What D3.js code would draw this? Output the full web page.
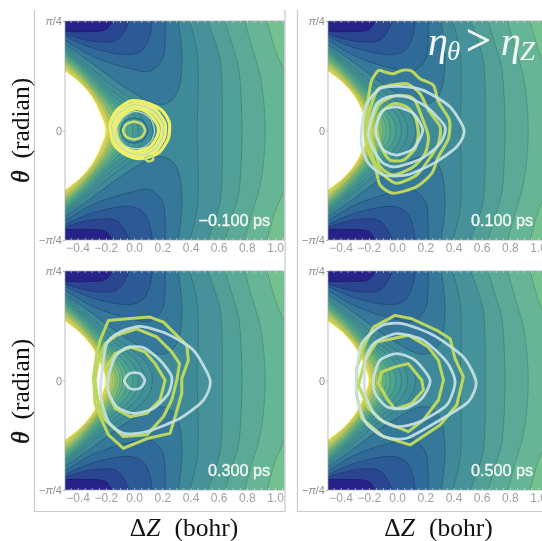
<!DOCTYPE html>
<html><head><meta charset="utf-8">
<script src="https://cdnjs.cloudflare.com/ajax/libs/d3/7.8.5/d3.min.js"></script>
<style>html,body{margin:0;padding:0;background:#fff;overflow:hidden}svg{display:block;filter:blur(.6px)}</style>
</head><body><script>
// axis values
const xTickValues=[-0.4,-0.2,0,0.2,0.4,0.6,0.8,1.0];
const xTickLabels=["−0.4","−0.2","0.0","0.2","0.4","0.6","0.8","1.0"];
const thetaTickValues=[-Math.PI/4,0,Math.PI/4];
const thetaTickLabels=["−<tspan font-style='italic'>π</tspan>/4","0","<tspan font-style='italic'>π</tspan>/4"];
const panelTimes=["−0.100 ps","0.100 ps","0.300 ps","0.500 ps"];
// energy contours: upper half [ΔZ, θ]; the surface is symmetric in θ
const lobeContours=[
 [[-.5,.625],[-.29,.475],[-.05,.30],[.16,.19],[.24,.2],[.305,.27],[.34,.51],[.31,.8]],
 [[-.5,.655],[-.29,.53],[-.01,.44],[.11,.425],[.2,.51],[.22,.65],[.22,.8]],
 [[-.5,.68],[-.29,.59],[-.03,.545],[.06,.58],[.11,.675],[.13,.8]],
 [[-.5,.695],[-.29,.64],[-.12,.65],[-.04,.77],[-.03,.8]],
 [[-.5,.71],[-.33,.71],[-.2,.725],[-.15,.8]]];
const lobeColors=["#35789a","#2f6a98","#2c5a96","#2a4690","#27218a"];
const rightContours=[
 [[.39,.8],[.43,.65],[.45,.53],[.455,.3],[.447,0]],
 [[.515,.8],[.57,.65],[.61,.51],[.625,.25],[.625,0]],
 [[.64,.8],[.7,.6],[.74,.46],[.76,.22],[.765,0]],
 [[.78,.8],[.84,.58],[.89,.41],[.92,.2],[.93,0]],
 [[.94,.8],[1.0,.58],[1.08,.37],[1.1,0]]];
const rightColors=["#46929a","#50a098","#5baa98","#66b596","#73c18f"];
const arcContours=[
 [[-.5,.615],[-.38,.51],[-.29,.435],[-.17,.33],[-.05,.245],[.05,.17],[.11,.09],[.13,0]],
 [[-.5,.6],[-.38,.49],[-.29,.41],[-.17,.295],[-.05,.205],[.03,.125],[.065,.06],[.075,0]],
 [[-.5,.585],[-.38,.475],[-.29,.39],[-.17,.265],[-.05,.165],[.01,.09],[.03,0]],
 [[-.5,.57],[-.38,.46],[-.29,.37],[-.17,.24],[-.06,.125],[-.02,.06],[-.01,0]],
 [[-.5,.555],[-.38,.445],[-.29,.35],[-.17,.215],[-.08,.105],[-.055,.05],[-.05,0]],
 [[-.5,.54],[-.38,.43],[-.29,.33],[-.17,.19],[-.1,.085],[-.08,0]],
 [[-.5,.525],[-.38,.415],[-.29,.315],[-.17,.165],[-.115,.07],[-.1,0]],
 [[-.5,.515],[-.38,.4],[-.29,.3],[-.2,.18],[-.14,.07],[-.12,0]],
 [[-.5,.5],[-.38,.39],[-.29,.29],[-.21,.18],[-.155,.07],[-.135,0]],
 [[-.5,.487],[-.38,.378],[-.29,.278],[-.22,.175],[-.17,.07],[-.15,0]],
 [[-.5,.475],[-.38,.368],[-.29,.268],[-.225,.17],[-.18,.07],[-.162,0]],
 [[-.5,.463],[-.38,.36],[-.29,.258],[-.23,.16],[-.19,.07],[-.172,0]],
 [[-.5,.452],[-.38,.352],[-.29,.248],[-.235,.15],[-.197,.065],[-.182,0]],
 [[-.5,.441],[-.38,.345],[-.29,.238],[-.24,.14],[-.205,.06],[-.192,0]]];
const arcColors=["#418f98","#469c96","#5bb08e","#85c47c","#b8d66c","#e2e664","#fbf264"];
const whiteEdge=[[-.5,.43],[-.38,.338],[-.29,.225],[-.245,.13],[-.215,.055],[-.205,0]];
// wavepacket contours per panel
const p1Yellow=[
 [[-.17,.05],[-.123,.145],[-.028,.212],[.066,.205],[.161,.169],[.208,.133],[.251,.05],[.243,-.057],[.184,-.152],[.113,-.188],[.019,-.2],[-.076,-.164],[-.147,-.093]],
 [[-.158,.04],[-.11,.13],[-.02,.19],[.06,.185],[.15,.15],[.22,.05],[.215,-.05],[.16,-.14],[.09,-.175],[.01,-.18],[-.07,-.15],[-.135,-.08]],
 [[-.145,.03],[-.1,.115],[-.02,.17],[.06,.165],[.135,.125],[.195,.04],[.19,-.045],[.14,-.125],[.07,-.16],[.005,-.165],[-.07,-.135],[-.125,-.07]],
 [[-.13,.02],[-.09,.1],[-.015,.15],[.055,.15],[.12,.105],[.17,.03],[.165,-.04],[.12,-.11],[.06,-.14],[0,-.15],[-.065,-.12],[-.115,-.06]]];
const p1Pale=[
 [[-.16,.03],[-.115,.12],[-.02,.18],[.06,.175],[.14,.14],[.205,.045],[.2,-.05],[.15,-.13],[.08,-.168],[.01,-.172],[-.07,-.142],[-.13,-.075]],
 [[-.125,.015],[-.08,.09],[-.005,.135],[.06,.125],[.12,.08],[.145,0],[.125,-.07],[.07,-.12],[0,-.13],[-.07,-.105],[-.115,-.05]]];
const p1Dark=[[[-.095,0],[-.066,.066],[0,.09],[.066,.066],[.098,0],[.066,-.066],[0,-.09],[-.066,-.066]]];
const p1Inner=[[[-.078,0],[-.055,.045],[0,.064],[.055,.045],[.078,0],[.055,-.045],[0,-.064],[-.055,-.045]],
 [[.08,-.195],[.1,-.18],[.13,-.19],[.135,-.21],[.105,-.222],[.085,-.21]]];
const p2Yellow=[
 [[-.132,.431],[-.085,.419],[-.026,.407],[.033,.431],[.104,.426],[.163,.371],[.258,.324],[.293,.205],[.371,.074],[.364,-.057],[.293,-.188],[.246,-.307],[.139,-.402],[-.026,-.45],[-.121,-.39],[-.156,-.26],[-.215,-.117],[-.227,.026],[-.203,.24],[-.18,.36]],
 [[-.18,.193],[-.132,.3],[-.05,.324],[.069,.336],[.163,.264],[.222,.145],[.305,.026],[.293,-.093],[.222,-.212],[.139,-.319],[-.002,-.379],[-.097,-.319],[-.156,-.236],[-.196,-.093],[-.215,.05]],
 [[-.168,.098],[-.121,.193],[-.002,.252],[.116,.229],[.175,.098],[.222,-.045],[.199,-.164],[.116,-.26],[-.026,-.319],[-.121,-.26],[-.156,-.14],[-.191,-.021]],
 [[-.132,.098],[-.085,.157],[-.014,.193],[.069,.169],[.128,.098],[.151,-.021],[.128,-.129],[.045,-.212],[-.05,-.212],[-.109,-.129],[-.144,-.01]]];
const p2Pale=[
 [[-.144,.05],[-.097,.145],[-.002,.169],[.116,.121],[.182,.002],[.116,-.129],[-.002,-.176],[-.097,-.14],[-.149,-.033]],
 [[-.191,.05],[-.144,.193],[-.05,.245],[.069,.24],[.21,.169],[.34,.026],[.305,-.093],[.175,-.2],[-.002,-.26],[-.097,-.236],[-.168,-.14],[-.203,-.033]],
 [[-.25,.026],[-.215,.193],[-.121,.3],[.021,.317],[.187,.288],[.376,.169],[.475,.002],[.423,-.117],[.258,-.236],[.069,-.319],[-.097,-.319],[-.203,-.236],[-.25,-.117]]];
const p3Yellow=[
 [[-.241,.288],[-.182,.431],[-.052,.443],[.113,.455],[.208,.419],[.374,.252],[.385,.145],[.338,.014],[.338,-.093],[.291,-.26],[.255,-.379],[.102,-.414],[-.076,-.486],[-.182,-.39],[-.241,-.26],[-.277,-.164],[-.288,.026],[-.265,.193]],
 [[-.253,.145],[-.206,.264],[-.123,.324],[.019,.371],[.161,.312],[.267,.205],[.322,.121],[.303,.002],[.267,-.14],[.208,-.26],[.09,-.39],[-.076,-.402],[-.206,-.283],[-.253,-.176],[-.277,.002]],
 [[-.194,.098],[-.135,.193],[-.028,.24],[.078,.205],[.149,.121],[.22,.002],[.184,-.14],[.09,-.236],[-.028,-.26],[-.135,-.2],[-.182,-.093]]];
const p3Pale=[
 [[-.069,-.002],[-.04,.045],[.002,.057],[.05,.045],[.076,-.002],[.05,-.05],[.002,-.064],[-.04,-.05]],
 [[-.182,.026],[-.135,.169],[-.052,.236],[.066,.236],[.184,.145],[.267,.026],[.243,-.093],[.137,-.2],[-.005,-.236],[-.123,-.188],[-.182,-.081]],
 [[-.229,.05],[-.194,.264],[-.099,.348],[.043,.388],[.232,.336],[.421,.217],[.539,.002],[.492,-.14],[.326,-.271],[.09,-.367],[-.076,-.379],[-.182,-.295],[-.236,-.117]]];
const p4Yellow=[
 [[-.168,.383],[-.014,.467],[.104,.443],[.281,.36],[.376,.3],[.411,.157],[.47,.026],[.423,-.176],[.305,-.319],[.092,-.462],[-.097,-.402],[-.251,-.271],[-.286,-.105],[-.286,.086],[-.239,.24]],
 [[-.227,.145],[-.144,.276],[.08,.324],[.222,.24],[.293,.145],[.329,.002],[.293,-.14],[.187,-.283],[.08,-.367],[-.097,-.295],[-.203,-.2],[-.274,-.033]],
 [[-.109,.062],[-.014,.098],[.08,.121],[.175,.002],[.187,-.069],[.104,-.164],[-.014,-.205],[-.073,-.129],[-.132,-.021]]];
const p4Pale=[
 [[-.168,.014],[-.121,.145],[-.002,.193],[.128,.145],[.234,.002],[.175,-.129],[.057,-.2],[-.073,-.188],[-.156,-.093]],
 [[-.227,.133],[-.168,.264],[-.002,.336],[.187,.288],[.352,.133],[.411,-.01],[.352,-.176],[.163,-.295],[-.002,-.331],[-.144,-.26],[-.227,-.093]],
 [[-.286,.062],[-.251,.264],[-.109,.395],[.045,.407],[.258,.324],[.47,.169],[.56,-.01],[.506,-.152],[.305,-.283],[.069,-.414],[-.097,-.402],[-.227,-.295],[-.286,-.105]]];

const W=542,H=541,PW=219,PH=219;
const panels=[
 {x:65,y:21,i:0,yellow:p1Yellow,pale:p1Pale,dark:p1Dark,inner:p1Inner,curve:d3.curveCardinalClosed},
 {x:328,y:21,i:1,yellow:p2Yellow,pale:p2Pale,curve:d3.curveCardinalClosed},
 {x:65,y:271,i:2,yellow:p3Yellow,pale:p3Pale,curve:d3.curveLinearClosed},
 {x:328,y:271,i:3,yellow:p4Yellow,pale:p4Pale,curve:d3.curveLinearClosed}];
const svg=d3.select("body").append("svg").attr("width",W).attr("height",H).attr("viewBox",`0 0 ${W} ${H}`);
svg.append("rect").attr("width",W).attr("height",H).attr("fill","#fff");
// outer frames
svg.append("path").attr("fill","none").attr("stroke","#c9c9c9").attr("stroke-width",1.2)
 .attr("d","M34.5,10V511.5H285V10M297.5,10V511.5H542");
const defs=svg.append("defs");
const x=d3.scaleLinear().domain([-.49,1.063]).range([0,PW]);
const y=d3.scaleLinear().domain([-Math.PI/4,Math.PI/4]).range([PH,0]);
const line=d3.line().x(d=>x(d[0])).y(d=>y(d[1])).curve(d3.curveCatmullRom.alpha(.5));
const mirror=c=>c.map(d=>[d[0],-d[1]]).reverse();
const arcScale=d3.scaleLinear().domain(arcColors.map((_,i)=>i*(arcContours.length-1)/(arcColors.length-1))).range(arcColors).interpolate(d3.interpolateRgb);
const dim=c=>d3.color(c).darker(.75).formatHex();

panels.forEach(p=>{
 const g=svg.append("g").attr("transform",`translate(${p.x},${p.y})`);
 defs.append("clipPath").attr("id","c"+p.i).append("rect").attr("width",PW).attr("height",PH);
 const f=g.append("g").attr("clip-path",`url(#c${p.i})`);
 f.append("rect").attr("width",PW).attr("height",PH).attr("fill","#3f8a98");
 // lobes (low energy, both corners)
 lobeContours.forEach((c,i)=>{
  [c,c.map(d=>[d[0],-d[1]])].forEach(k=>{
   const corner=[x(-.7),y(k[0][1]>0?1:-1)];
   const d=line(k);
   f.append("path").attr("d",d+`L${x(k[k.length-1][0])},${y(k[0][1]>0?1:-1)}L${corner[0]},${corner[1]}L${x(-.7)},${y(k[0][1])}Z`).attr("fill",lobeColors[i]);
   f.append("path").attr("d",d).attr("fill","none").attr("stroke",dim(lobeColors[i])).attr("stroke-width",.8);
  });
 });
 // right bands
 rightContours.forEach((c,i)=>{
  const full=c.concat(mirror(c).slice(1));
  const d=line(full);
  f.append("path").attr("d",d+`L${x(1.4)},${y(-1)}L${x(1.4)},${y(1)}Z`).attr("fill",rightColors[i]);
  f.append("path").attr("d",d).attr("fill","none").attr("stroke",dim(rightColors[i])).attr("stroke-width",.8);
 });
 // arcs toward the repulsive wall
 arcContours.forEach((c,i)=>{
  const full=c.concat(mirror(c).slice(1));
  const d=line(full);
  f.append("path").attr("d",d+"Z").attr("fill",arcScale(i));
  f.append("path").attr("d",d).attr("fill","none").attr("stroke",dim(arcScale(i))).attr("stroke-width",.7);
 });
 f.append("path").attr("d",line(whiteEdge.concat(mirror(whiteEdge).slice(1)))+"Z").attr("fill","#fff");
 // wavepackets
 const paleRing=d3.line().x(d=>x(d[0])).y(d=>y(d[1])).curve(d3.curveCardinalClosed.tension(.3));
 const drawP=(arr,col,w,o)=>(arr||[]).forEach(c=>f.append("path").attr("d",paleRing(c)).attr("fill","none").attr("stroke",col).attr("stroke-width",w).attr("opacity",o||1));
 drawP(p.dark,"#2a6d9a",1.5);
 const yr=d3.line().x(d=>x(d[0])).y(d=>y(d[1])).curve(p.curve===d3.curveLinearClosed?d3.curveLinearClosed:d3.curveCardinalClosed.tension(.3));
 if(p.i===0){
  p.yellow.forEach(c=>f.append("path").attr("d",yr(c)).attr("fill","none").attr("stroke","#eff06a").attr("stroke-width",3.2).attr("stroke-linejoin","round"));
  drawP(p.pale,"#bcdccb",1.2);
  drawP(p.inner,"#c4dc74",2.6);
 } else {
  p.yellow.forEach(c=>f.append("path").attr("d",yr(c)).attr("fill","none").attr("stroke","#bbd75e").attr("stroke-width",3).attr("stroke-linejoin","round"));
  drawP(p.pale,"#c5e2e4",2.8,.92);
 }
 // frame and ticks
 g.append("rect").attr("width",PW).attr("height",PH).attr("fill","none").attr("stroke","#9aa5aa").attr("stroke-width",.7);
 const minor=d3.range(-.45,1.06,.05);
 g.append("g").call(d3.axisBottom(x).tickValues(minor).tickSize(-2).tickFormat("")).attr("transform",`translate(0,${PH})`).call(s=>{s.select(".domain").remove();s.selectAll("line").attr("stroke","#dfe6dc").attr("stroke-width",.6)});
 g.append("g").call(d3.axisTop(x).tickValues(minor).tickSize(-2).tickFormat("")).call(s=>{s.select(".domain").remove();s.selectAll("line").attr("stroke","#dfe6dc").attr("stroke-width",.6)});
 const ax=g.append("g").attr("transform",`translate(0,${PH})`)
  .call(d3.axisBottom(x).tickValues(xTickValues).tickSize(0).tickPadding(3).tickFormat((d,i)=>xTickLabels[i]));
 ax.select(".domain").remove();
 ax.selectAll("text").attr("font-family","Liberation Sans").attr("font-size",12).attr("fill","#a0a0a0");
 const ay=g.append("g").call(d3.axisLeft(y).tickValues(thetaTickValues).tickSize(2).tickPadding(1).tickFormat(""));
 ay.select(".domain").remove();
 ay.selectAll("line").attr("stroke","#b0b0b0");
 ay.selectAll("text").data(thetaTickLabels).html(d=>d).attr("font-family","Liberation Sans").attr("font-size",11).attr("fill","#8e8e8e");
 g.append("text").attr("x",205).attr("y",p.i<2?205:205).attr("text-anchor","end").attr("font-family","Liberation Sans").attr("font-size",16.2).attr("fill","#f0f7f0").attr("stroke","#f0f7f0").attr("stroke-width",.35).text(panelTimes[p.i]);
});
// axis titles
[[21,130.5],[21,391.5]].forEach(([cx,cy])=>{
 const t=svg.append("text").attr("transform",`translate(${cx+8},${cy}) rotate(-90)`).attr("text-anchor","middle").attr("font-family","Liberation Serif").attr("font-size",25.5).attr("fill","#111");
 t.append("tspan").attr("font-style","italic").attr("stroke","#111").attr("stroke-width",.5).text("θ");
 t.append("tspan").attr("dx",12).text("(radian)");
});
[184,438.5].forEach(cx=>{
 const t=svg.append("text").attr("x",cx).attr("y",536).attr("text-anchor","middle").attr("font-family","Liberation Serif").attr("font-size",25.5).attr("fill","#111");
 t.append("tspan").text("Δ");
 t.append("tspan").attr("font-style","italic").text("Z");
 t.append("tspan").attr("dx",14).text("(bohr)");
});
// annotation
const a=svg.append("text").attr("y",55).attr("font-family","Liberation Serif").attr("font-size",40).attr("fill","#f3f8f4");
a.append("tspan").attr("x",428).attr("font-style","italic").text("η");
a.append("tspan").attr("x",447).attr("font-style","italic").attr("font-size",27).attr("dy",5).text("θ");
a.append("tspan").attr("x",466).attr("dy",-5).attr("font-size",44).attr("stroke","#f3f8f4").attr("stroke-width",.6).text(">");
a.append("tspan").attr("x",501).attr("font-style","italic").text("η");
a.append("tspan").attr("x",520).attr("font-style","italic").attr("font-size",27).attr("dy",5).text("Z");
</script></body></html>
